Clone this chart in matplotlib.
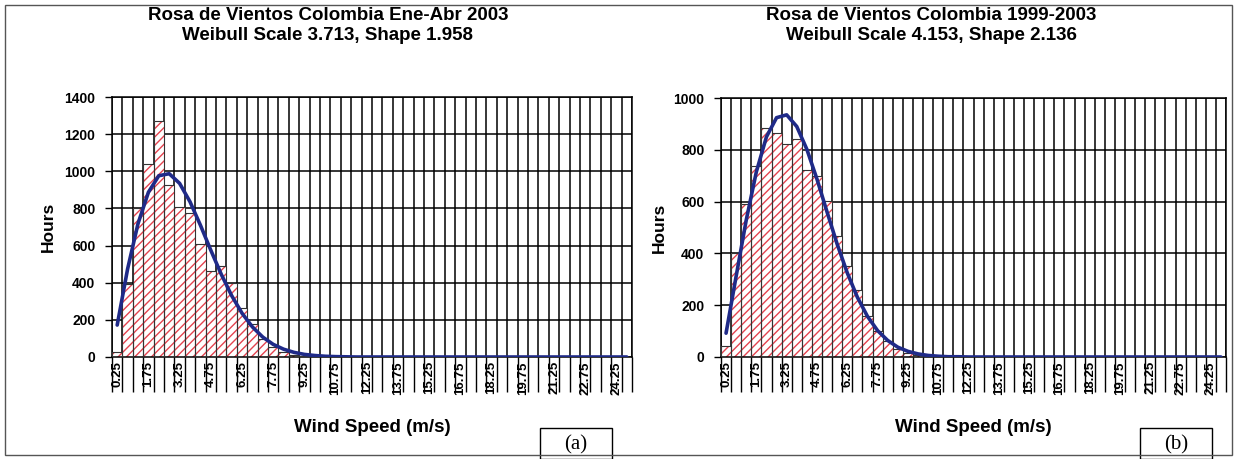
import numpy as np
import matplotlib
matplotlib.use('Agg')
import matplotlib.pyplot as plt
from matplotlib.patches import Rectangle

plt.rcParams['font.family'] = ['Liberation Sans', 'DejaVu Sans']
plt.rcParams['hatch.linewidth'] = 1.0

# wind speed bin centres (m/s), 0.5 m/s bins
wind_speed = np.arange(0.25, 25.0, 0.5)
label_every = 3

# (a) Ene-Abr 2003
title_a = 'Rosa de Vientos Colombia Ene-Abr 2003\nWeibull Scale 3.713, Shape 1.958'
hours_a = [25, 395, 804, 1037, 1271, 928, 808, 775, 610, 463,
           490, 400, 265, 180, 95, 55, 25, 12, 5, 2,
           0, 0, 0, 0, 0, 0, 0, 0, 0, 0,
           0, 0, 0, 0, 0, 0, 0, 0, 0, 0,
           0, 0, 0, 0, 0, 0, 0, 0, 0, 0]
weibull_a = [172, 474, 718, 887, 976, 987, 935, 836, 710, 575,
             446, 331, 236, 162, 107, 68, 42, 25, 14, 8,
             4, 2, 1, 0, 0, 0, 0, 0, 0, 0,
             0, 0, 0, 0, 0, 0, 0, 0, 0, 0,
             0, 0, 0, 0, 0, 0, 0, 0, 0, 0]
ymax_a = 1400

# (b) 1999-2003
title_b = 'Rosa de Vientos Colombia 1999-2003\nWeibull Scale 4.153, Shape 2.136'
hours_b = [41, 401, 591, 739, 883, 863, 822, 842, 723, 700,
           604, 469, 353, 257, 160, 100, 60, 30, 15, 8,
           4, 2, 0, 0, 0, 0, 0, 0, 0, 0,
           0, 0, 0, 0, 0, 0, 0, 0, 0, 0,
           0, 0, 0, 0, 0, 0, 0, 0, 0, 0]
weibull_b = [92, 312, 529, 715, 850, 924, 935, 890, 802, 687,
             560, 436, 325, 231, 157, 102, 64, 38, 22, 12,
             6, 3, 1, 1, 0, 0, 0, 0, 0, 0,
             0, 0, 0, 0, 0, 0, 0, 0, 0, 0,
             0, 0, 0, 0, 0, 0, 0, 0, 0, 0]
ymax_b = 1000

W, H = 1235, 459


def draw_panel(fig, rect, hours, weibull, ymax, title, tag, title_x, tag_x, hours_x):
    ax = fig.add_axes(rect)
    idx = np.arange(len(wind_speed))

    # hatched bars, then the dark outlines on top
    ax.bar(idx, hours, width=1.0, color='white', edgecolor='#e4434f',
           hatch='////', linewidth=0, zorder=2)
    ax.bar(idx, hours, width=1.0, color='none', edgecolor='#333333',
           linewidth=0.8, zorder=3)
    ax.plot(idx, weibull, color='#1f2a88', linewidth=2.6, zorder=5,
            solid_capstyle='round')

    ax.set_xlim(-0.5, len(idx) - 0.5)
    ax.set_ylim(0, ymax)

    # category boundaries -> gridlines + long outside ticks
    ax.set_xticks(np.arange(-0.5, len(idx)), minor=False)
    ax.set_xticklabels([])
    ax.tick_params(axis='x', which='major', length=25, width=1.0,
                   direction='out', color='black')
    ax.set_xticks(idx[::label_every], minor=True)
    ax.set_xticklabels(['%g' % v for v in wind_speed[::label_every]],
                       minor=True, rotation=90, fontsize=9.5, fontweight='bold')
    ax.tick_params(axis='x', which='minor', length=0, pad=3)

    ax.set_yticks(np.arange(0, ymax + 1, 200))
    ax.set_yticklabels([str(v) for v in range(0, ymax + 1, 200)],
                       fontsize=10, fontweight='bold')
    ax.tick_params(axis='y', length=5, width=1.0, pad=7)

    ax.grid(True, which='major', color='black', linewidth=1.1, zorder=1)
    ax.set_axisbelow(True)
    for s in ax.spines.values():
        s.set_linewidth(1.1)

    cx = rect[0] + rect[2] / 2
    cy = rect[1] + rect[3] / 2
    fig.text(hours_x / W, cy, 'Hours', rotation=90, ha='center', va='center',
             fontsize=12.5, fontweight='bold')
    fig.text(cx, 1 - 427 / H, 'Wind Speed (m/s)', ha='center', va='center',
             fontsize=13.5, fontweight='bold')

    fig.text(title_x / W, 1 - 7 / H, title, ha='center', va='top',
             fontsize=13.5, fontweight='bold', linespacing=1.2)

    # (a)/(b) box at the bottom
    fig.add_artist(Rectangle((tag_x / W, 0), 72 / W, 31 / H,
                             transform=fig.transFigure, fill=False,
                             edgecolor='black', linewidth=1.0))
    fig.text((tag_x + 36) / W, 14 / H, tag, ha='center', va='center',
             fontsize=15, family=['Liberation Serif', 'DejaVu Serif'])
    return ax


fig = plt.figure(figsize=(W / 100, H / 100), dpi=100)

draw_panel(fig, [112 / W, (H - 357) / H, 520 / W, 260 / H],
           hours_a, weibull_a, ymax_a, title_a, '(a)', 328, 540, 48)
draw_panel(fig, [721 / W, (H - 357) / H, 505 / W, 259 / H],
           hours_b, weibull_b, ymax_b, title_b, '(b)', 931, 1140, 659)

# outer frame of the scanned figure
fig.add_artist(Rectangle((5 / W, 4 / H), 1227 / W, 450 / H,
                         transform=fig.transFigure, fill=False,
                         edgecolor='#555555', linewidth=1.0))

fig.savefig('out.png', dpi=100)
